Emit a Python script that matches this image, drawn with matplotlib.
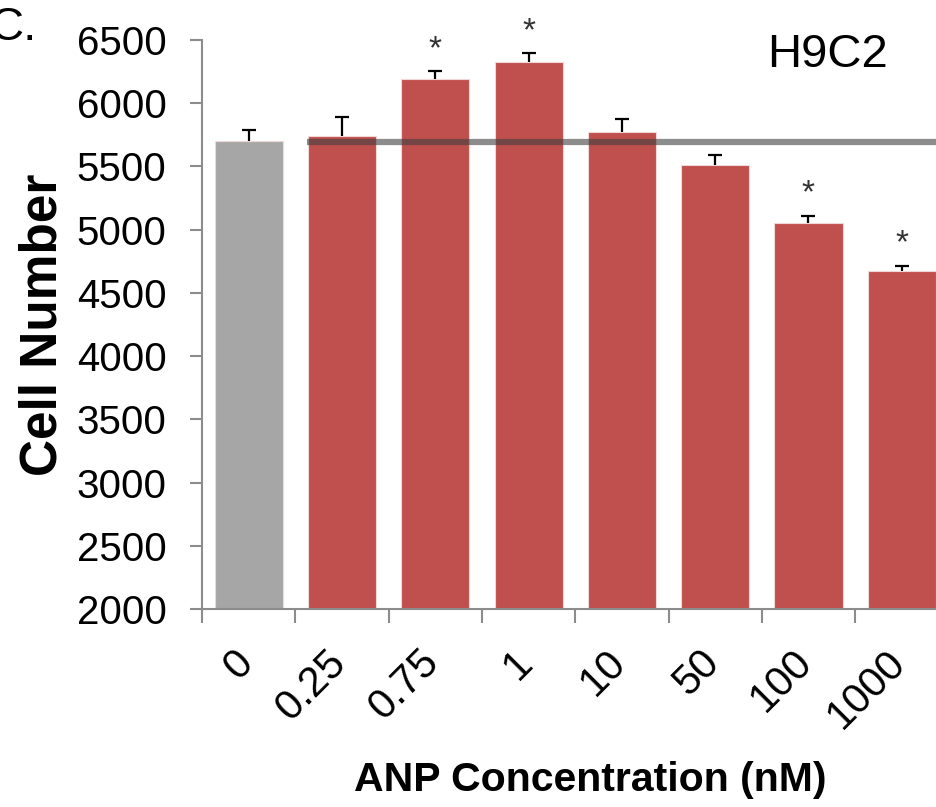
import matplotlib.pyplot as plt

plt.rcParams['font.family'] = ['Liberation Sans', 'DejaVu Sans']

# data
concentrations = ['0', '0.25', '0.75', '1', '10', '50', '100', '1000']
cell_number = [5700, 5737, 6195, 6330, 5774, 5513, 5051, 4672]
sem = [85, 158, 58, 66, 100, 76, 60, 42]
significant = [False, False, True, True, False, False, True, True]
control_level = 5695

bar_colors = ['#A6A6A6'] + ['#C0504D'] * (len(concentrations) - 1)

fig = plt.figure(figsize=(9.37, 8.07), dpi=100)
ax = fig.add_axes([0.2156, 0.2454, 0.7966, 0.705])

x = list(range(len(concentrations)))
ax.bar(x, [v - 2000 for v in cell_number], bottom=2000, width=0.73,
       color=bar_colors, edgecolor='#F0D8D8', linewidth=0.8, zorder=2)
_, caps, _ = ax.errorbar(x, cell_number, yerr=[[0] * len(sem), sem], fmt='none',
                         ecolor='black', elinewidth=1.6, capsize=5, capthick=1.6,
                         zorder=3)
caps[0].set_visible(False)  # only the upper half is shown

for i, (v, e, s) in enumerate(zip(cell_number, sem, significant)):
    if s:
        ax.text(i, v + e + 50, '*', ha='center', va='bottom', fontsize=24,
                color='#333333', zorder=4, clip_on=False)

# control reference line
ax.hlines(control_level, 0.63, 7.5, color='#404040', alpha=0.6, linewidth=4.5, zorder=4)

ax.set_xlim(-0.5, 7.5)
ax.set_ylim(2000, 6500)
ax.set_yticks(range(2000, 6501, 500))
ax.set_xticks([i + 0.5 for i in range(-1, 8)])
ax.set_xticklabels([])
# rotated labels sit a little right of the bar centres
ax.set_xticks([i + 0.13 for i in x], minor=True)
ax.set_xticklabels(concentrations, minor=True, rotation=45, ha='right',
                   va='top', fontsize=30)
ax.tick_params(axis='x', which='minor', length=0, pad=24)
ax.tick_params(axis='x', which='major', length=10, width=1.5, color='#8C8C8C')
ax.tick_params(axis='y', length=8.6, width=1.5, color='#8C8C8C', labelsize=29, pad=17)

for side in ['top', 'right']:
    ax.spines[side].set_visible(False)
for side in ['left', 'bottom']:
    ax.spines[side].set_color('#8C8C8C')
    ax.spines[side].set_linewidth(1.5)

ax.set_ylabel('Cell Number', fontsize=37, fontweight='bold', va='center')
ax.yaxis.set_label_coords(-0.213, 0.5)
ax.set_xlabel('ANP Concentration (nM)', fontsize=29.5, fontweight='bold', va='center')
ax.xaxis.set_label_coords(0.52, -0.30)

fig.text(0.948, 0.932, 'H9C2', fontsize=34, ha='right', va='center')
fig.text(-0.0107, 0.965, 'C.', fontsize=34, ha='left', va='center')

fig.savefig('out.png', dpi=100, facecolor='white')
